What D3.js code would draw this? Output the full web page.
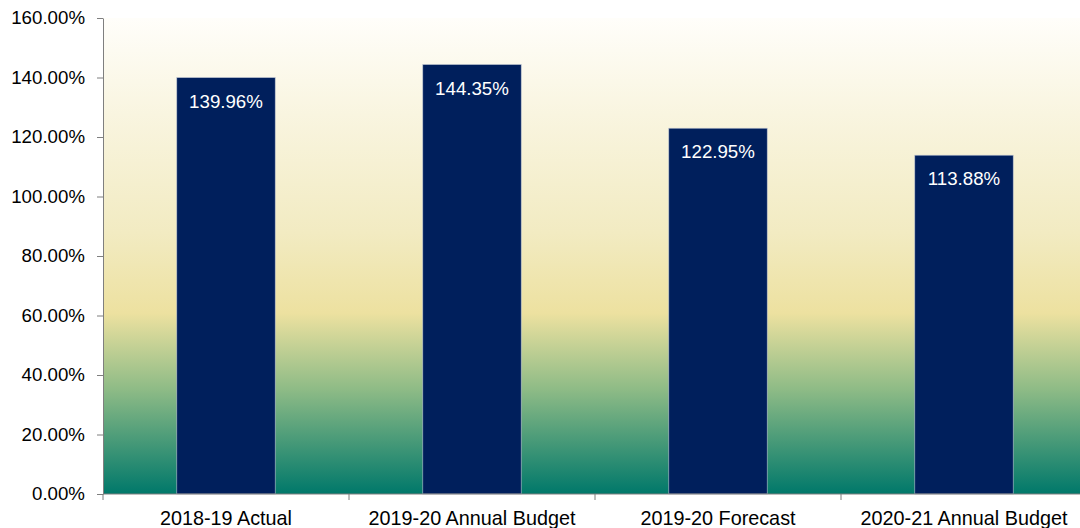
<!DOCTYPE html>
<html>
<head>
<meta charset="utf-8">
<script src="https://cdn.jsdelivr.net/npm/d3@7"></script>
<style>
  body { margin: 0; background: #fff; }
  svg text { font-family: "Liberation Sans", Arial, sans-serif; }
  .axis path, .axis line { stroke: #7f7f7f; }
  .axis text { font-size: 18.7px; fill: #000; }
  .axis .cat { font-size: 19.8px; }
</style>
</head>
<body>
<div id="chart"></div>
<script>
const categories = ['2018-19 Actual', '2019-20 Annual Budget', '2019-20 Forecast', '2020-21 Annual Budget'];
const values = [139.96, 144.35, 122.95, 113.88];
const yTicks = [0, 20, 40, 60, 80, 100, 120, 140, 160];

const margin = { top: 18, right: -7, bottom: 34, left: 103 };
const width = 1080 - margin.left - margin.right;
const height = 528 - margin.top - margin.bottom;

const root = d3.select('#chart')
    .append('svg')
    .attr('width', 1080)
    .attr('height', 528);

const defs = root.append('defs');
const grad = defs.append('linearGradient')
    .attr('id', 'bg')
    .attr('x1', 0).attr('y1', 0).attr('x2', 0).attr('y2', 1);
[
    ['0%', '#fffefa'],
    ['20%', '#f9f5e0'],
    ['45%', '#f2ebc2'],
    ['62%', '#ede1a0'],
    ['78%', '#8ebb86'],
    ['100%', '#00786a']
].forEach(([o, c]) => grad.append('stop').attr('offset', o).attr('stop-color', c));

const svg = root.append('g')
    .attr('transform', `translate(${margin.left},${margin.top})`);

const x = d3.scaleBand()
    .domain(categories)
    .range([0, width])
    .paddingInner(0.6)
    .paddingOuter(0.3);

const xEdges = d3.scaleLinear()
    .domain([0, categories.length])
    .range([0, width]);

const y = d3.scaleLinear()
    .domain([0, 160])
    .range([height, 0]);

svg.append('rect')
    .attr('x', 0)
    .attr('y', 0)
    .attr('width', width)
    .attr('height', height)
    .attr('fill', 'url(#bg)');

svg.selectAll('.bar')
    .data(values)
    .enter()
    .append('rect')
    .attr('class', 'bar')
    .attr('x', (d, i) => x(categories[i]))
    .attr('y', d => y(d))
    .attr('width', x.bandwidth())
    .attr('height', d => height - y(d))
    .attr('fill', '#001f5c')
    .attr('stroke', '#b9c1cf')
    .attr('stroke-width', 0.6);

svg.selectAll('.label')
    .data(values)
    .enter()
    .append('text')
    .attr('class', 'label')
    .attr('x', (d, i) => x(categories[i]) + x.bandwidth() / 2)
    .attr('y', d => y(d) + 30)
    .attr('text-anchor', 'middle')
    .attr('fill', '#fff')
    .style('font-size', '18.7px')
    .text(d => d.toFixed(2) + '%');

svg.append('g')
    .attr('class', 'axis')
    .call(d3.axisLeft(y).tickValues(yTicks).tickSize(6).tickSizeOuter(0)
        .tickFormat(d => d.toFixed(2) + '%'))
    .call(g => g.selectAll('text').attr('x', -18));

const xAxis = svg.append('g')
    .attr('class', 'axis')
    .attr('transform', `translate(0,${height})`);

xAxis.append('line')
    .attr('x1', 0).attr('x2', width)
    .attr('stroke', '#333');

xAxis.selectAll('.edge')
    .data(d3.range(categories.length + 1))
    .enter()
    .append('line')
    .attr('x1', d => xEdges(d)).attr('x2', d => xEdges(d))
    .attr('y1', 0).attr('y2', 6);

xAxis.selectAll('.cat')
    .data(categories)
    .enter()
    .append('text')
    .attr('class', 'cat')
    .attr('x', d => x(d) + x.bandwidth() / 2)
    .attr('y', 31)
    .attr('text-anchor', 'middle')
    .text(d => d);
</script>
</body>
</html>
